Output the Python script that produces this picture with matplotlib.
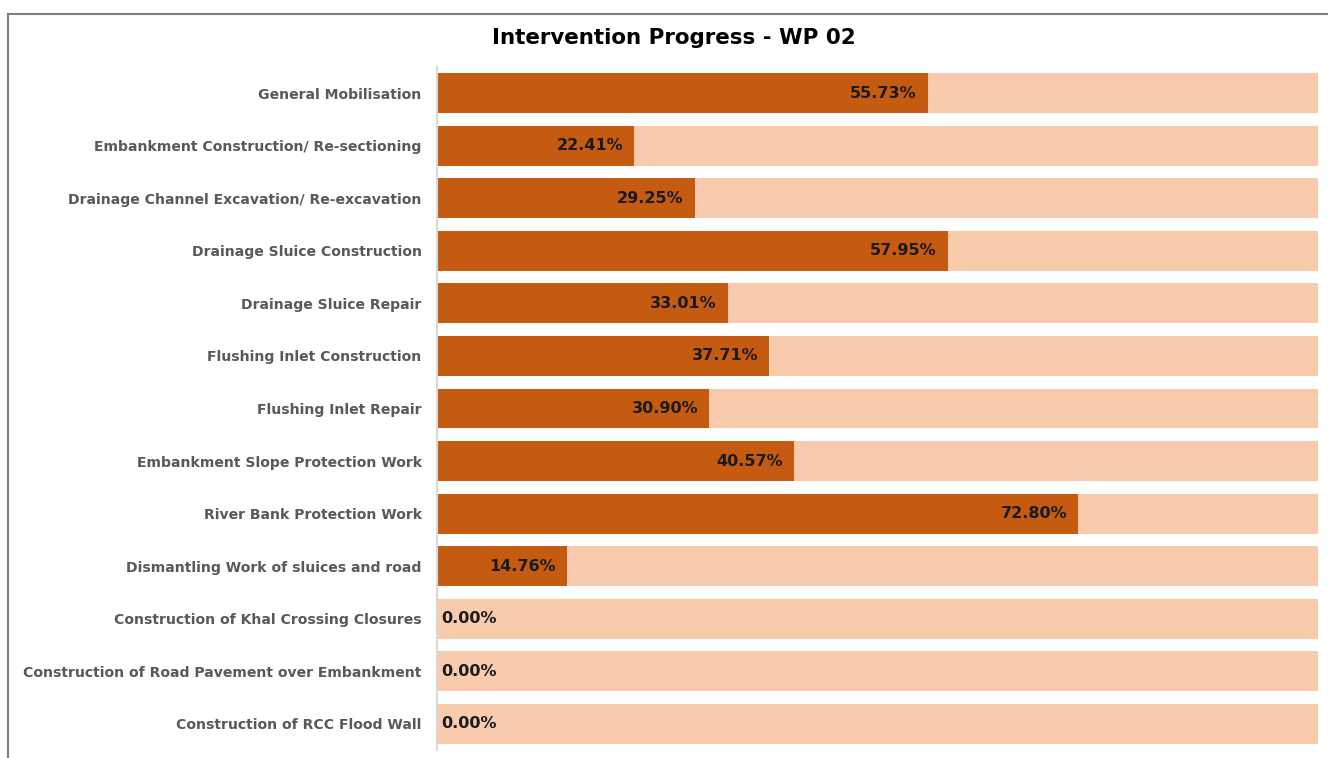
import matplotlib
matplotlib.use("Agg")
import matplotlib.pyplot as plt
from matplotlib.lines import Line2D

categories = [
    "General Mobilisation",
    "Embankment Construction/ Re-sectioning",
    "Drainage Channel Excavation/ Re-excavation",
    "Drainage Sluice Construction",
    "Drainage Sluice Repair",
    "Flushing Inlet Construction",
    "Flushing Inlet Repair",
    "Embankment Slope Protection Work",
    "River Bank Protection Work",
    "Dismantling Work of sluices and road",
    "Construction of Khal Crossing Closures",
    "Construction of Road Pavement over Embankment",
    "Construction of RCC Flood Wall",
]
progress = [55.73, 22.41, 29.25, 57.95, 33.01, 37.71, 30.90, 40.57, 72.80, 14.76, 0.00, 0.00, 0.00]
total = [100] * len(categories)
title = "Intervention Progress - WP 02"

W, H = 1328, 758
fig = plt.figure(figsize=(W / 100, H / 100), dpi=100)
ax = fig.add_axes([437 / W, 1 - 750 / H, (1318 - 437) / W, (750 - 67) / H])

y = list(range(len(categories)))
ax.barh(y, total, height=0.76, color="#F8CBAD", zorder=1)
ax.barh(y, progress, height=0.76, color="#C55A11", zorder=2)

ax.set_xlim(0, 100)
ax.set_ylim(len(categories) - 0.5, -0.5)
ax.set_yticks(y)
ax.set_yticklabels(categories, fontsize=10.1, fontweight="bold", color="#595959",
                   family="DejaVu Sans")
ax.tick_params(axis="y", length=0, pad=11)
ax.set_xticks([])
for s in ["top", "right", "bottom"]:
    ax.spines[s].set_visible(False)
ax.spines["left"].set_color("#D9D9D9")
ax.spines["left"].set_linewidth(1.5)

for yi, v in zip(y, progress):
    txt = f"{v:.2f}%"
    if v > 0:
        ax.annotate(txt, (v, yi), xytext=(-8, 0), textcoords="offset points",
                    ha="right", va="center", fontsize=11.5, fontweight="bold",
                    color="#1a1a1a", family="DejaVu Sans", zorder=3)
    else:
        ax.annotate(txt, (0, yi), xytext=(3, 0), textcoords="offset points",
                    ha="left", va="center", fontsize=11.5, fontweight="bold",
                    color="#1a1a1a", family="DejaVu Sans", zorder=3)

fig.text(674 / W, 1 - 38.5 / H, title, ha="center", va="center", fontsize=15.4,
         fontweight="bold", color="black", family="DejaVu Sans")

fig.add_artist(Line2D([8 / W, 1], [1 - 14 / H, 1 - 14 / H], transform=fig.transFigure,
                      color="#808080", lw=1.5))
fig.add_artist(Line2D([8 / W, 8 / W], [1 - 14 / H, 0], transform=fig.transFigure,
                      color="#808080", lw=1.5))

fig.savefig("out.png", dpi=100)
